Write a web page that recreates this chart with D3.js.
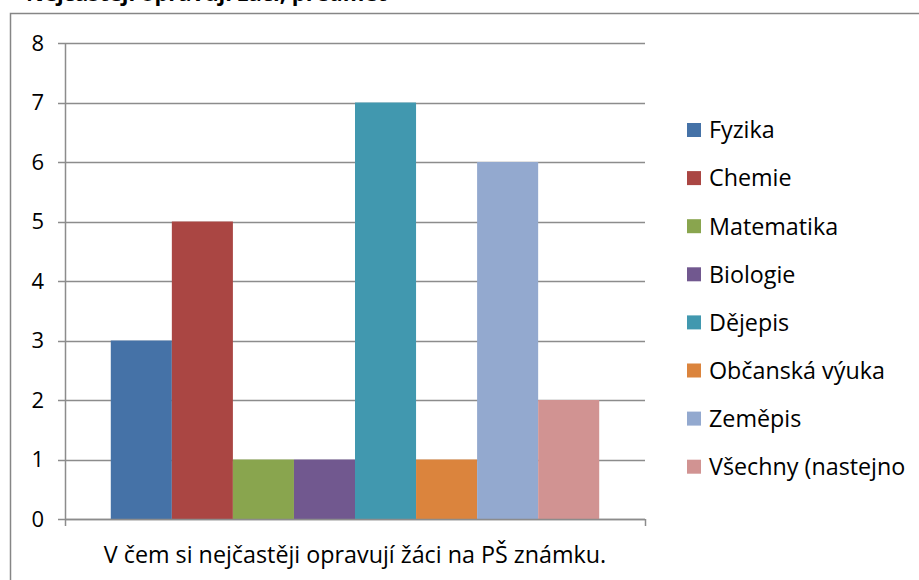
<!DOCTYPE html>
<html>
<head>
<meta charset="utf-8">
<script src="https://cdn.jsdelivr.net/npm/d3@7"></script>
<style>
  body { margin: 0; background: #fff; }
  text { font-family: "Open Sans", "Noto Sans", sans-serif; fill: #000; }
</style>
</head>
<body>
<div id="chart"></div>
<script>
// data
const subjects = ['Fyzika', 'Chemie', 'Matematika', 'Biologie', 'Dějepis',
    'Občanská výuka', 'Zeměpis', 'Všechny (nastejno'];
const counts = [3, 5, 1, 1, 7, 1, 6, 2];
const barColors = ['#4572A7', '#AA4643', '#89A54E', '#71588F', '#4198AF',
    '#DB843D', '#93A9CF', '#D19392'];
const yTicks = [0, 1, 2, 3, 4, 5, 6, 7, 8];
const categoryLabel = 'V čem si nejčastěji opravují žáci na PŠ známku.';
const titleText = 'Nejčastěji opravují žáci, předmět';

const W = 919, H = 580;
const plot = { left: 65, right: 645, top: 43, bottom: 519 };

const svg = d3.select('#chart')
    .append('svg')
    .attr('width', W)
    .attr('height', H);

// titulek (oříznutý nahoře, jako v předloze)
svg.append('text')
    .attr('x', 26)
    .attr('y', 1)
    .style('font-size', '22px')
    .style('font-weight', 'bold')
    .text(titleText);

// rámeček grafu
svg.append('rect')
    .attr('x', 10.5)
    .attr('y', 13.5)
    .attr('width', 920)
    .attr('height', 600)
    .attr('fill', 'none')
    .attr('stroke', '#868686')
    .attr('stroke-width', 1.5);

const y = d3.scaleLinear()
    .domain([0, 8])
    .range([plot.bottom, plot.top]);

const x0 = d3.scaleBand()
    .domain([categoryLabel])
    .range([plot.left, plot.right])
    .paddingInner(0)
    .paddingOuter(0);

// Excel gap 150 % -> 0.75 šířky sloupce z každé strany
const nBars = subjects.length;
const barW = x0.bandwidth() / (nBars + 1.5);
const x1 = d3.scaleBand()
    .domain(subjects)
    .range([x0(categoryLabel) + 0.75 * barW, x0(categoryLabel) + x0.bandwidth() - 0.75 * barW]);

// mřížka
svg.append('g')
    .selectAll('line')
    .data(yTicks)
    .enter()
    .append('line')
    .attr('x1', plot.left - 7)
    .attr('x2', plot.right)
    .attr('y1', d => Math.round(y(d)) + 0.5)
    .attr('y2', d => Math.round(y(d)) + 0.5)
    .attr('stroke', '#8c8c8c')
    .attr('stroke-width', 1.5);

// sloupce
svg.append('g')
    .selectAll('rect')
    .data(subjects)
    .enter()
    .append('rect')
    .attr('x', d => x1(d))
    .attr('y', (d, i) => y(counts[i]))
    .attr('width', x1.bandwidth())
    .attr('height', (d, i) => y(0) - y(counts[i]))
    .attr('fill', (d, i) => barColors[i]);

// osy
svg.append('line')
    .attr('x1', plot.left + 0.5).attr('x2', plot.left + 0.5)
    .attr('y1', plot.top).attr('y2', plot.bottom + 7)
    .attr('stroke', '#8c8c8c').attr('stroke-width', 1.5);
svg.append('line')
    .attr('x1', plot.left).attr('x2', plot.right)
    .attr('y1', plot.bottom + 0.5).attr('y2', plot.bottom + 0.5)
    .attr('stroke', '#8c8c8c').attr('stroke-width', 1.5);
svg.append('line')
    .attr('x1', plot.right + 0.5).attr('x2', plot.right + 0.5)
    .attr('y1', plot.bottom).attr('y2', plot.bottom + 7)
    .attr('stroke', '#8c8c8c').attr('stroke-width', 1.5);

// popisky osy Y
svg.append('g')
    .selectAll('text')
    .data(yTicks)
    .enter()
    .append('text')
    .attr('x', 44)
    .attr('y', d => y(d))
    .attr('dy', '0.36em')
    .attr('text-anchor', 'end')
    .style('font-size', '22px')
    .text(d => d);

// popisek kategorie
svg.append('text')
    .attr('x', 355)
    .attr('y', 555)
    .attr('dy', '0.36em')
    .attr('text-anchor', 'middle')
    .style('font-size', '23.3px')
    .text(categoryLabel);

// legenda
const legend = svg.append('g');
subjects.forEach((s, i) => {
    const cy = 130 + i * 48.1;
    legend.append('rect')
        .attr('x', 687)
        .attr('y', cy - 7)
        .attr('width', 14)
        .attr('height', 14)
        .attr('fill', barColors[i]);
    legend.append('text')
        .attr('x', 709)
        .attr('y', cy)
        .attr('dy', '0.36em')
        .style('font-size', '23.3px')
        .text(s);
});
</script>
</body>
</html>
